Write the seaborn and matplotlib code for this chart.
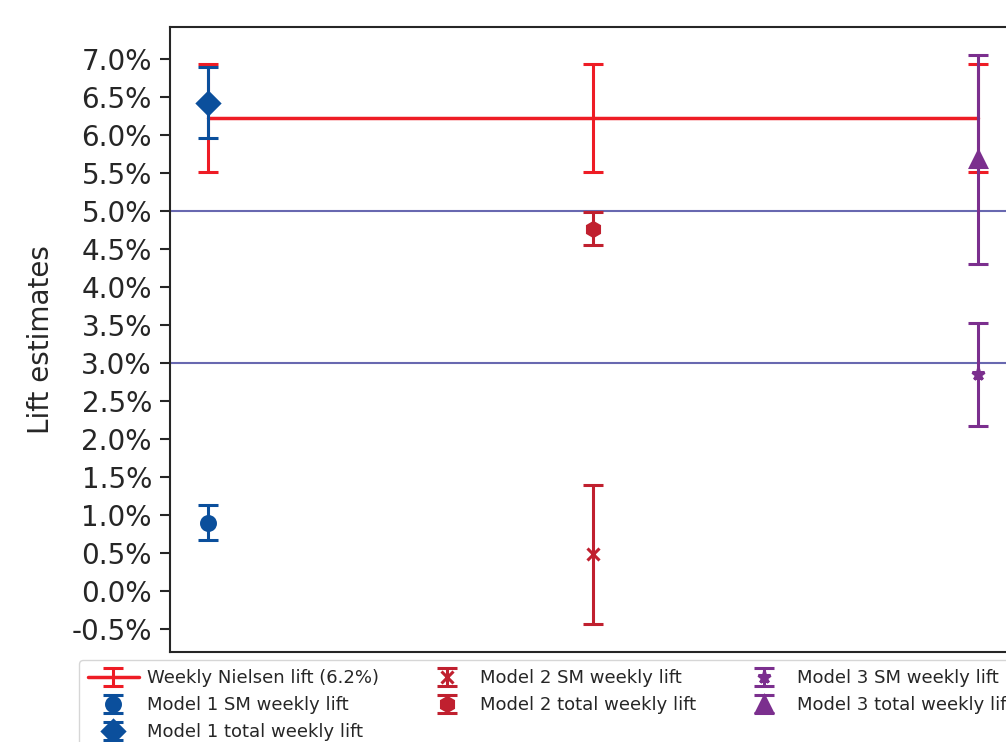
import matplotlib
matplotlib.use("Agg")
import matplotlib.pyplot as plt
import seaborn as sns
from matplotlib.ticker import PercentFormatter, MultipleLocator

# Lift estimates (as fractions) and symmetric error half-widths
nielsen_lift = 0.0623
nielsen_err = 0.0071
positions = [0, 1, 2]

model_names = ["Model 1", "Model 2", "Model 3"]
sm_lift = [0.0090, 0.0048, 0.0285]
sm_err = [0.0023, 0.0091, 0.0068]
total_lift = [0.0643, 0.0477, 0.0568]
total_err = [0.0047, 0.0022, 0.0137]

ref_lines = [0.05, 0.03]

model_colors = ["#0b4f9c", "#c0202f", "#7b2f8e"]
nielsen_color = "#ee1c25"
sm_markers = ["o", "x", "*"]
sm_sizes = [10, 9, 9]
total_markers = ["D", "h", "^"]
total_sizes = [11, 10, 11]

sns.set_theme(style="ticks")
plt.rcParams["axes.unicode_minus"] = False
plt.rcParams["font.family"] = ["DejaVu Sans"]

fig = plt.figure(figsize=(10.06, 7.42), dpi=100)
ax = fig.add_axes([0.169, 0.1213, 0.841, 0.8423])

for y in ref_lines:
    ax.axhline(y, color="#6868b0", lw=1.5, zorder=1)

# mew doubles as cap thickness in errorbar, so set it to the same width
bar_style = dict(elinewidth=2.2, capsize=7, mew=2.2)

handles = []
h = ax.errorbar(positions, [nielsen_lift] * len(positions),
                yerr=nielsen_err, color=nielsen_color, lw=2.5, zorder=2,
                label=f"Weekly Nielsen lift ({nielsen_lift:.1%})", **bar_style)
handles.append(h)

for i, name in enumerate(model_names):
    hs = ax.errorbar(positions[i], sm_lift[i], yerr=sm_err[i], fmt=sm_markers[i],
                     color=model_colors[i], ms=sm_sizes[i], zorder=3,
                     label=f"{name} SM weekly lift", **bar_style)
    ht = ax.errorbar(positions[i], total_lift[i], yerr=total_err[i], fmt=total_markers[i],
                     color=model_colors[i], ms=total_sizes[i], zorder=3,
                     label=f"{name} total weekly lift", **bar_style)
    handles.extend([hs, ht])

ax.yaxis.set_major_locator(MultipleLocator(0.005))
ax.yaxis.set_major_formatter(PercentFormatter(xmax=1, decimals=1))
ax.set_xticks([])
ax.tick_params(axis="y", labelsize=20, length=7, width=1.5, pad=6, colors="#262626")
ax.set_ylabel("Lift estimates", fontsize=20, labelpad=12)
for sp in ax.spines.values():
    sp.set_color("#262626")
    sp.set_linewidth(1.5)

fig.legend(handles=handles, loc="upper left", bbox_to_anchor=(0.0785, 0.1105),
           ncol=3, fontsize=13, handlelength=2.8, handletextpad=0.45,
           frameon=True, columnspacing=2.36, borderaxespad=0, borderpad=0.5)

fig.savefig("out.png", dpi=100)
